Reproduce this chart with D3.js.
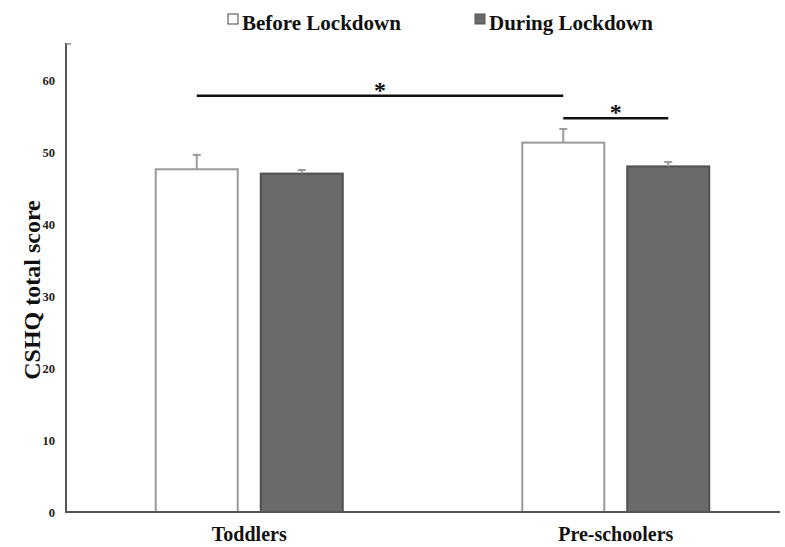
<!DOCTYPE html>
<html>
<head>
<meta charset="utf-8">
<script src="https://cdn.jsdelivr.net/npm/d3@7"></script>
<style>
  body { margin: 0; background: #fff; }
  text { font-family: "Times New Roman", "Liberation Serif", serif; font-weight: bold; }
</style>
</head>
<body>
<div id="chart"></div>
<script>
// data
const groups = ["Toddlers", "Pre-schoolers"];
const seriesNames = ["Before Lockdown", "During Lockdown"];
const beforeValues = [47.6, 51.3];
const duringValues = [47.0, 48.0];
const beforeErr = [2.0, 1.9];
const duringErr = [0.5, 0.6];
const yTicks = [0, 10, 20, 30, 40, 50, 60];
// significance brackets: [group, series] -> [group, series], at a y value
const sigFrom = [["Toddlers", "Before Lockdown"], ["Pre-schoolers", "Before Lockdown"]];
const sigTo = [["Pre-schoolers", "Before Lockdown"], ["Pre-schoolers", "During Lockdown"]];
const sigY = [57.8, 54.7];

function init() {
    const w = 785, h = 547;
    const left = 66, bottom = 512, top = 44, axisEnd = 780;

    const svg = d3.select("#chart").append("svg")
        .attr("width", w).attr("height", h);

    const x0 = d3.scaleBand().domain(groups).range([left, 799]);
    const innerW = 187;
    const x1 = d3.scaleBand().domain(seriesNames)
        .range([(x0.bandwidth() - innerW) / 2, (x0.bandwidth() + innerW) / 2])
        .paddingInner(23 / 105);
    const y = d3.scaleLinear().domain([0, 65]).range([bottom, top]);

    const fills = { "Before Lockdown": "#ffffff", "During Lockdown": "#6a6a6a" };
    const strokes = { "Before Lockdown": "#9a9a9a", "During Lockdown": "#505050" };

    const rows = [];
    groups.forEach((g, i) => {
        rows.push({ group: g, series: seriesNames[0], value: beforeValues[i], err: beforeErr[i] });
        rows.push({ group: g, series: seriesNames[1], value: duringValues[i], err: duringErr[i] });
    });
    const cx = (g, s) => x0(g) + x1(s) + x1.bandwidth() / 2;

    // bars
    svg.append("g").selectAll("rect")
        .data(rows).enter().append("rect")
        .attr("x", d => x0(d.group) + x1(d.series))
        .attr("y", d => y(d.value))
        .attr("width", x1.bandwidth())
        .attr("height", d => y(0) - y(d.value))
        .attr("fill", d => fills[d.series])
        .attr("stroke", d => strokes[d.series])
        .attr("stroke-width", 2);

    // error bars (upper only)
    const eb = svg.append("g").attr("stroke", "#9a9a9a").attr("stroke-width", 2);
    eb.selectAll("line.v").data(rows).enter().append("line")
        .attr("x1", d => cx(d.group, d.series)).attr("x2", d => cx(d.group, d.series))
        .attr("y1", d => y(d.value)).attr("y2", d => y(d.value + d.err));
    eb.selectAll("line.c").data(rows).enter().append("line")
        .attr("x1", d => cx(d.group, d.series) - 4).attr("x2", d => cx(d.group, d.series) + 4)
        .attr("y1", d => y(d.value + d.err)).attr("y2", d => y(d.value + d.err));

    // axes
    const yAxis = svg.append("g")
        .attr("transform", `translate(${left},0)`)
        .call(d3.axisLeft(y).tickValues(yTicks).tickSize(0).tickPadding(11));
    yAxis.select(".domain").remove();
    yAxis.selectAll("text").attr("font-size", "12.5px").attr("fill", "#222")
        .style("font-family", '"Times New Roman", "Liberation Serif", serif');

    svg.append("line").attr("x1", left).attr("x2", left)
        .attr("y1", y(65) - 1).attr("y2", bottom)
        .attr("stroke", "#555").attr("stroke-width", 2);
    svg.append("line").attr("x1", left).attr("x2", left + 5)
        .attr("y1", y(65)).attr("y2", y(65))
        .attr("stroke", "#888").attr("stroke-width", 1.5);
    svg.append("line").attr("x1", left - 1).attr("x2", axisEnd)
        .attr("y1", bottom).attr("y2", bottom)
        .attr("stroke", "#555").attr("stroke-width", 2);

    // category labels
    svg.append("g").selectAll("text")
        .data(groups).enter().append("text")
        .attr("x", d => x0(d) + x0.bandwidth() / 2)
        .attr("y", 541)
        .attr("text-anchor", "middle")
        .attr("font-size", "20px")
        .attr("fill", "#111")
        .text(d => d);

    // y title
    svg.append("text")
        .attr("transform", `translate(40,${(top + bottom) / 2 + 12}) rotate(-90)`)
        .attr("text-anchor", "middle")
        .attr("font-size", "24px")
        .attr("fill", "#111")
        .text("CSHQ total score");

    // significance lines
    sigY.forEach((v, i) => {
        const xa = cx(sigFrom[i][0], sigFrom[i][1]);
        const xb = cx(sigTo[i][0], sigTo[i][1]);
        svg.append("line").attr("x1", xa).attr("x2", xb)
            .attr("y1", y(v)).attr("y2", y(v))
            .attr("stroke", "#111").attr("stroke-width", 2.5);
        svg.append("text")
            .attr("x", (xa + xb) / 2).attr("y", y(v) + 2)
            .attr("text-anchor", "middle")
            .attr("font-size", "24px")
            .attr("fill", "#111")
            .text("*");
    });

    // legend
    const legX = [228, 475];
    seriesNames.forEach((s, i) => {
        svg.append("rect")
            .attr("x", legX[i]).attr("y", 14)
            .attr("width", 10).attr("height", 10)
            .attr("fill", fills[s])
            .attr("stroke", i === 0 ? "#444" : "#555")
            .attr("stroke-width", 1);
        svg.append("text")
            .attr("x", legX[i] + 14).attr("y", 30)
            .attr("font-size", "21px")
            .attr("fill", "#111")
            .text(s);
    });
}

window.onload = init;
</script>
</body>
</html>
